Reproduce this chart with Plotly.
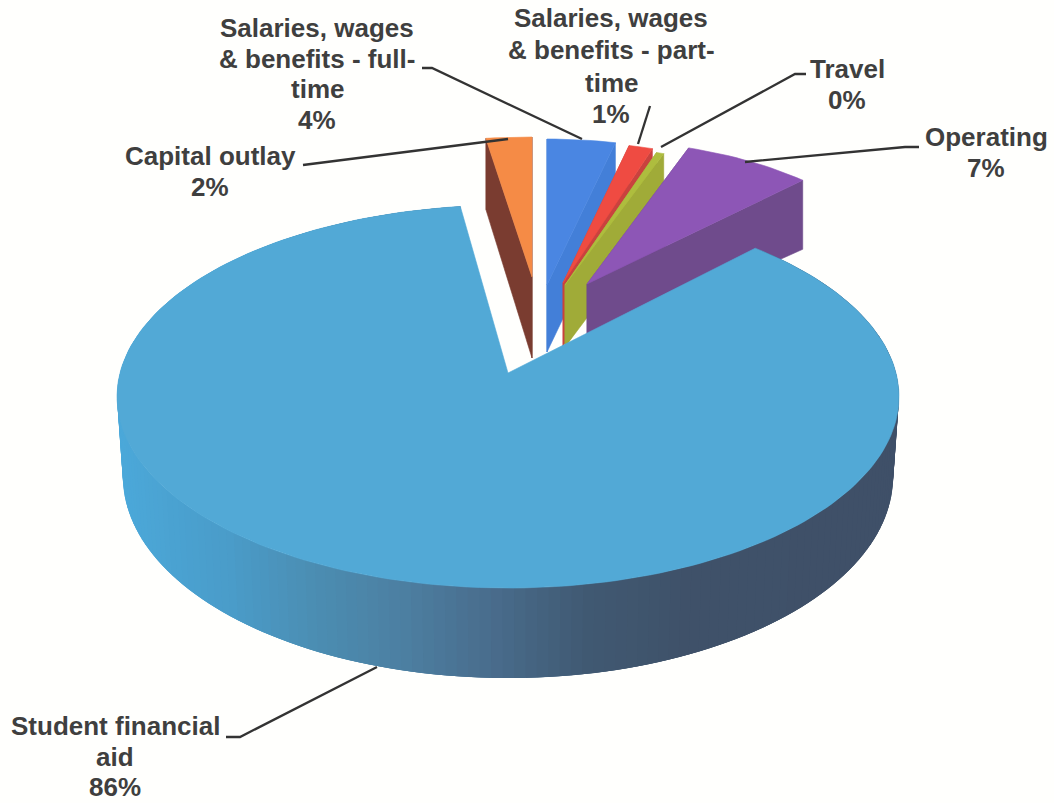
import math
import plotly.graph_objects as go

# Budget shares, clockwise from twelve o'clock
categories = ["Salaries, wages<br>& benefits - full-<br>time",
              "Salaries, wages<br>& benefits - part-<br>time",
              "Travel",
              "Operating",
              "Student financial<br>aid",
              "Capital outlay"]
values = [3.6, 1.3, 0.4, 6.9, 85.6, 2.2]

# Per-slice drawing style: pulled apex, radii, perspective, wall height at apex and rim
styles = [
    dict(apex=(547, 285), rx=305, ry=146, p=0, h0=67, h1=66, top="#4a86e2", face="#437fd8"),
    dict(apex=(563, 283), rx=295, ry=141, p=0, h0=63, h1=63, top="#ef4b42", face="#c9423e"),
    dict(apex=(565, 285), rx=302, ry=139, p=0, h0=62, h1=62, top="#aebd3e", face="#a0ab38"),
    dict(apex=(587, 284), rx=311, ry=144, p=0, h0=62, h1=69, top="#8d56b6", face="#6f4b8c"),
    dict(apex=(508, 373), rx=388, ry=188.6, p=0.123, h0=77, h1=79, top="#52a9d6", face="#3f5068"),
    dict(apex=(532, 277), rx=335, ry=140, p=0, h0=81, h1=71, top="#f58b46", face="#7a3c30"),
]
wall_stops = [(115, "#4ba9da"), (240, "#4a9cc9"), (330, "#4b8db2"), (420, "#4c7fa1"),
              (510, "#496c8c"), (600, "#405a73"), (700, "#3f5169"), (900, "#3f5068")]
draw_order = [5, 0, 1, 2, 3, 4]

# Label centre x and the y of each text line, one entry per slice
label_x = [317, 611, 847, 986, 115, 210]
label_y = [[28, 59, 89, 120], [18, 50, 83, 114], [69, 100], [137, 168], [726, 757, 787], [156, 187]]
leaders = [
    [(422, 68), (432, 68), (582, 139)],
    [(650, 106), (638, 144)],
    [(806, 74), (795, 74), (661, 147)],
    [(919, 147), (905, 147), (745, 162)],
    [(226, 737), (240, 737), (377, 667)],
    [(303, 165), (311, 164), (508, 139)],
]
TEXT = "#3f3f3f"


def rim(st, theta):
    s = 1 / (1 + st["p"] * math.cos(theta))
    return (st["apex"][0] + st["rx"] * math.sin(theta) * s,
            st["apex"][1] - st["ry"] * math.cos(theta) * s)


def lower(st, theta):
    # Bottom edge of the slab under a rim point; the main disc narrows a little below
    x, y = rim(st, theta)
    s = 1 / (1 + st["p"] * math.cos(theta))
    if st["p"]:
        x = st["apex"][0] + (x - st["apex"][0]) * 0.985
    return x, y + st["h1"] * s


def blend(x):
    if x <= wall_stops[0][0]:
        return wall_stops[0][1]
    for (x0, c0), (x1, c1) in zip(wall_stops, wall_stops[1:]):
        if x <= x1:
            t = (x - x0) / (x1 - x0)
            a = [int(c0[i:i + 2], 16) for i in (1, 3, 5)]
            b = [int(c1[i:i + 2], 16) for i in (1, 3, 5)]
            return "#%02x%02x%02x" % tuple(round(u + (v - u) * t) for u, v in zip(a, b))
    return wall_stops[-1][1]


def poly(fig, pts, color, name, edge=0.6):
    fig.add_trace(go.Scatter(
        x=[p[0] for p in pts] + [pts[0][0]],
        y=[p[1] for p in pts] + [pts[0][1]],
        mode="lines", fill="toself", fillcolor=color,
        line=dict(color=color, width=edge),
        name=name, hoverinfo="skip", showlegend=False))


def arc(start, end, step=math.radians(1.5)):
    n = max(2, int((end - start) / step) + 1)
    return [start + (end - start) * i / (n - 1) for i in range(n)]


total = sum(values)
spans = []
edge_angle = 0.0
for v in values:
    spans.append((edge_angle, edge_angle + 2 * math.pi * v / total))
    edge_angle = spans[-1][1]

fig = go.Figure()
for i in draw_order:
    st = styles[i]
    a, b = spans[i]
    name = categories[i].replace("<br>", " ")
    ax, ay = st["apex"]
    low_apex = (ax, ay + st["h0"])
    if st["p"]:
        # Outer wall of the main disc; each strip runs under its neighbour so no seams show
        angles = arc(a, b, math.radians(1.5))
        for k in range(len(angles) - 1, 0, -1):
            t0, t1 = angles[k - 1], angles[min(k + 2, len(angles) - 1)]
            mid = rim(st, angles[k])
            pts = [rim(st, t0), rim(st, t1), lower(st, t1), lower(st, t0)]
            poly(fig, pts, blend(mid[0]), name + " wall", edge=0)
    else:
        # Radial end faces of the pulled slices
        poly(fig, [(ax, ay), rim(st, a), lower(st, a), low_apex], st["face"], name + " start")
        poly(fig, [(ax, ay), rim(st, b), lower(st, b), low_apex], st["face"], name + " end")
    poly(fig, [(ax, ay)] + [rim(st, t) for t in arc(a, b)], st["top"], name)

for line in leaders:
    fig.add_trace(go.Scatter(
        x=[p[0] for p in line], y=[p[1] for p in line], mode="lines",
        line=dict(color="#333333", width=2.3), hoverinfo="skip", showlegend=False))

# Text lines are placed one by one to hold the tight line spacing
for cat, v, lx, ys in zip(categories, values, label_x, label_y):
    for text, ly in zip(cat.split("<br>") + [f"{round(v)}%"], ys):
        fig.add_annotation(
            x=lx, y=ly, xref="x", yref="y", showarrow=False, align="center",
            xanchor="center", yanchor="middle", text=text,
            font=dict(family="Liberation Sans", size=26, color=TEXT, weight=700))

fig.update_layout(
    width=1054, height=803, autosize=False,
    margin=dict(l=0, r=0, t=0, b=0),
    paper_bgcolor="#fffffd", plot_bgcolor="#fffffd", showlegend=False,
    xaxis=dict(range=[0, 1054], visible=False, fixedrange=True),
    yaxis=dict(range=[803, 0], visible=False, fixedrange=True),
)
fig.write_html("out.html", config=dict(displayModeBar=False))
